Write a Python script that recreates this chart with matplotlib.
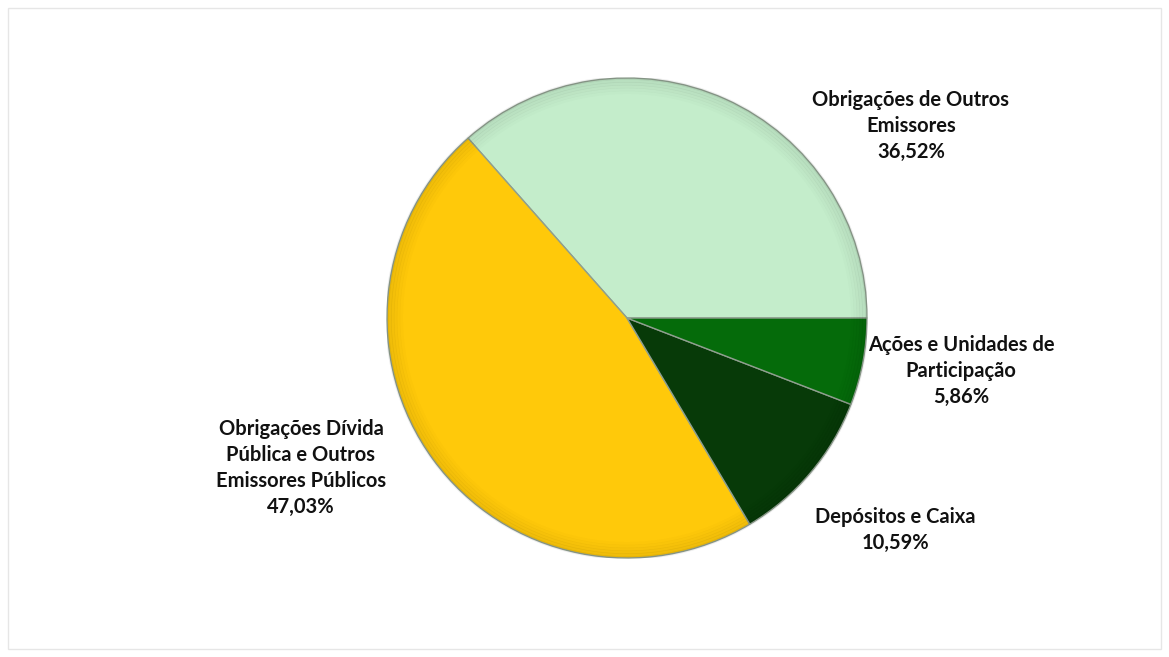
import matplotlib
matplotlib.use("Agg")
import matplotlib.pyplot as plt
from matplotlib.patches import Rectangle

# data (percent of portfolio)
labels = ["Obrigações de Outros\nEmissores",
          "Obrigações Dívida\nPública e Outros\nEmissores Públicos",
          "Depósitos e Caixa",
          "Ações e Unidades de\nParticipação"]
shares = [36.52, 47.03, 10.59, 5.86]
colors = ["#C4EDCB", "#FFC90A", "#073A08", "#056B0A"]

# label centres in figure pixels (from top-left)
label_pos = [(911, 126), (301, 468), (895, 530), (961, 371)]

W, H = 1169, 657
fig = plt.figure(figsize=(W / 100, H / 100), dpi=100)
fig.patch.set_facecolor("white")
fig.add_artist(Rectangle((8 / W, 8 / H), 1 - 16 / W, 1 - 16 / H,
                         transform=fig.transFigure, fill=False,
                         edgecolor="#E6E6E6", linewidth=1))

cx, cy, r = 627, 318, 240
ax = fig.add_axes([(cx - r) / W, 1 - (cy + r) / H, 2 * r / W, 2 * r / H])
wedges, _ = ax.pie(shares, colors=colors, startangle=0, counterclock=True,
                   radius=1.0,
                   wedgeprops=dict(edgecolor="#8f9f8f", linewidth=1.0))
# soft bevel: darker ring towards the rim
for k in range(6):
    rr = 1.0 - k * 0.012
    ax.add_patch(plt.Circle((0, 0), rr, fill=False,
                            edgecolor="black", linewidth=2.5,
                            alpha=0.07 * (6 - k) / 6))
ax.set_xlim(-1.0, 1.0)
ax.set_ylim(-1.0, 1.0)
ax.set_aspect("equal")
ax.axis("off")

for lab, val, (px, py) in zip(labels, shares, label_pos):
    txt = lab + "\n" + f"{val:.2f}".replace(".", ",") + "%"
    fig.text(px / W, 1 - py / H, txt, ha="center", va="center",
             fontsize=14.5, fontweight="bold", family="Lato",
             linespacing=1.38, color="#111111")

fig.savefig("out.png", dpi=100, facecolor="white")
